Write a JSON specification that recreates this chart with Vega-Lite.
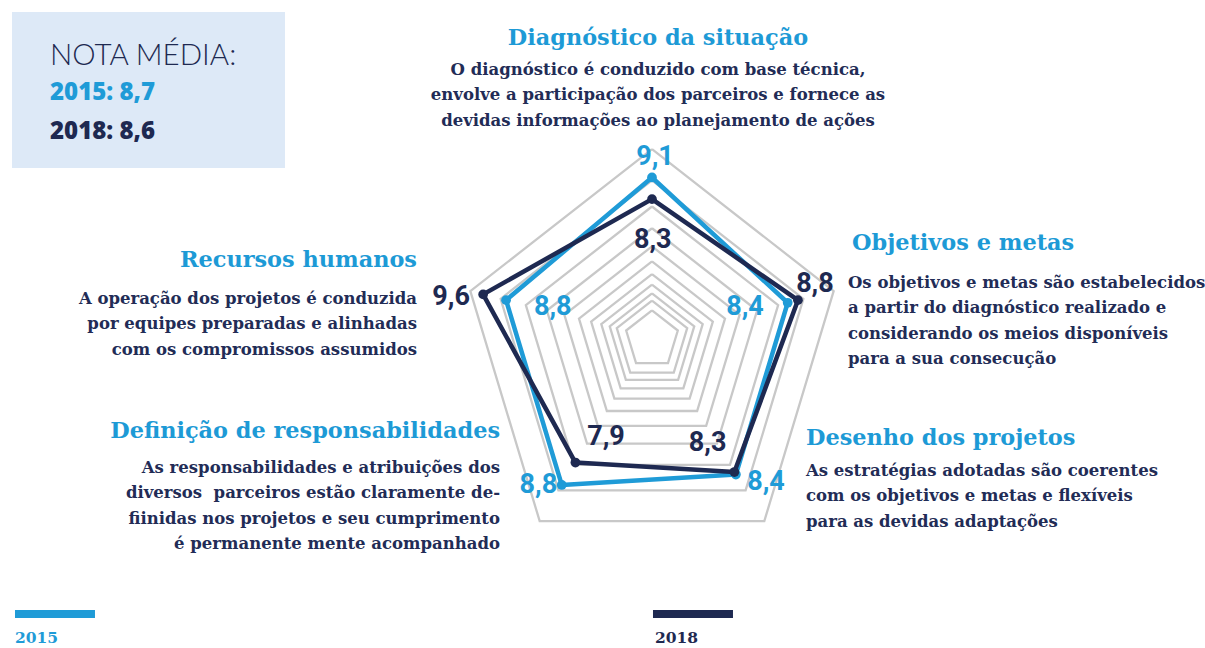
{
  "$schema": "https://vega.github.io/schema/vega-lite/v6.json",
  "width": 1205,
  "height": 648,
  "padding": 0,
  "autosize": {"type": "none"},
  "background": "white",
  "config": {"view": {"stroke": null}},
  "datasets": {
    "scores": [
      {"year": "2015", "i": 0, "eixo": "Diagnóstico da situação", "value": 9.1},
      {"year": "2015", "i": 1, "eixo": "Objetivos e metas", "value": 8.4},
      {"year": "2015", "i": 2, "eixo": "Desenho dos projetos", "value": 8.4},
      {"year": "2015", "i": 3, "eixo": "Definição de responsabilidades", "value": 8.8},
      {"year": "2015", "i": 4, "eixo": "Recursos humanos", "value": 8.8},
      {"year": "2018", "i": 0, "eixo": "Diagnóstico da situação", "value": 8.3},
      {"year": "2018", "i": 1, "eixo": "Objetivos e metas", "value": 8.8},
      {"year": "2018", "i": 2, "eixo": "Desenho dos projetos", "value": 8.3},
      {"year": "2018", "i": 3, "eixo": "Definição de responsabilidades", "value": 7.9},
      {"year": "2018", "i": 4, "eixo": "Recursos humanos", "value": 9.6}
    ],
    "rings": [
      {"ring": -0.7, "k": [0, 1, 2, 3, 4, 5]},
      {"ring": 1, "k": [0, 1, 2, 3, 4, 5]},
      {"ring": 2, "k": [0, 1, 2, 3, 4, 5]},
      {"ring": 3, "k": [0, 1, 2, 3, 4, 5]},
      {"ring": 4, "k": [0, 1, 2, 3, 4, 5]},
      {"ring": 5, "k": [0, 1, 2, 3, 4, 5]},
      {"ring": 6, "k": [0, 1, 2, 3, 4, 5]},
      {"ring": 7, "k": [0, 1, 2, 3, 4, 5]},
      {"ring": 8, "k": [0, 1, 2, 3, 4, 5]},
      {"ring": 9, "k": [0, 1, 2, 3, 4, 5]},
      {"ring": 10, "k": [0, 1, 2, 3, 4, 5]}
    ],
    "axes": [
      {"i": 0, "name": "Diagnóstico da situação", "desc": ["O diagnóstico é conduzido com base técnica,", "envolve a participação dos parceiros e fornece as", "devidas informações ao planejamento de ações"]},
      {"i": 1, "name": "Objetivos e metas", "desc": ["Os objetivos e metas são estabelecidos", "a partir do diagnóstico realizado e", "considerando os meios disponíveis", "para a sua consecução"]},
      {"i": 2, "name": "Desenho dos projetos", "desc": ["As estratégias adotadas são coerentes", "com os objetivos e metas e flexíveis", "para as devidas adaptações"]},
      {"i": 3, "name": "Definição de responsabilidades", "desc": ["As responsabilidades e atribuições dos", "diversos\u00a0 parceiros estão claramente de-", "fiinidas nos projetos e seu cumprimento", "é permanente mente acompanhado"]},
      {"i": 4, "name": "Recursos humanos", "desc": ["A operação dos projetos é conduzida", "por equipes preparadas e alinhadas", "com os compromissos assumidos"]}
    ],
    "years": [
      {"year": "2015", "media": 8.7},
      {"year": "2018", "media": 8.6}
    ]
  },
  "encoding": {
    "x": {"field": "x", "type": "quantitative", "scale": {"domain": [-3.4136, 2.8953], "nice": false, "zero": false}, "axis": null},
    "y": {"field": "y", "type": "quantitative", "scale": {"domain": [-1.6283, 1.7644], "nice": false, "zero": false}, "axis": null},
    "color": {"field": "year", "type": "nominal", "scale": {"domain": ["2015", "2018"], "range": ["#1f9bd7", "#1e2951"]}, "legend": null}
  },
  "layer": [
    {
      "data": {"values": [{"part": "box"}]},
      "transform": [
        {"calculate": "-3.3508", "as": "x"},
        {"calculate": "-1.9215", "as": "x2"},
        {"calculate": "1.7016", "as": "y"},
        {"calculate": "0.8848", "as": "y2"}
      ],
      "mark": {"type": "rect", "fill": "#dde9f7"},
      "encoding": {"x2": {"field": "x2"}, "y2": {"field": "y2"}, "color": {"value": "#dde9f7"}}
    },
    {
      "data": {"name": "rings"},
      "transform": [
        {"flatten": ["k"]},
        {"calculate": "pow(1.2, datum.ring - 10)", "as": "r"},
        {"calculate": "datum.r * [0, 0.951, 0.588, -0.588, -0.951, 0][datum.k]", "as": "x"},
        {"calculate": "datum.r * [0.984, 0.240, -0.964, -0.964, 0.240, 0.984][datum.k]", "as": "y"}
      ],
      "mark": {"type": "line", "stroke": "#c8c8c8", "strokeWidth": 2.3, "strokeJoin": "miter"},
      "encoding": {"detail": {"field": "ring", "type": "nominal"}, "order": {"field": "k", "type": "quantitative"}, "color": {"value": "#c8c8c8"}}
    },
    {
      "data": {"name": "scores"},
      "transform": [
        {"calculate": "pow(1.2, datum.value - 10)", "as": "r"},
        {"calculate": "datum.r * [0, 0.951, 0.588, -0.588, -0.951][datum.i]", "as": "x"},
        {"calculate": "datum.r * [0.984, 0.240, -0.964, -0.964, 0.240][datum.i]", "as": "y"}
      ],
      "mark": {"type": "line", "interpolate": "linear-closed", "strokeWidth": 4.5, "strokeJoin": "round"},
      "encoding": {"order": {"field": "i", "type": "quantitative"}}
    },
    {
      "data": {"name": "scores"},
      "transform": [
        {"calculate": "pow(1.2, datum.value - 10)", "as": "r"},
        {"calculate": "datum.r * [0, 0.951, 0.588, -0.588, -0.951][datum.i]", "as": "x"},
        {"calculate": "datum.r * [0.984, 0.240, -0.964, -0.964, 0.240][datum.i]", "as": "y"}
      ],
      "mark": {"type": "point", "filled": true, "opacity": 1, "size": 95}
    },
    {
      "data": {"name": "scores"},
      "transform": [
        {"calculate": "(datum.year == '2015' ? 0 : 5) + datum.i", "as": "key"},
        {"calculate": "pow(1.2, datum.value - 10)", "as": "r"},
        {"calculate": "datum.r * [0, 0.951, 0.588, -0.588, -0.951][datum.i] + [3, -42.7, 30.1, -23.4, 46.7, 0.7, 17, -26.7, 30.6, -32][datum.key] / 191", "as": "x"},
        {"calculate": "datum.r * [0.984, 0.240, -0.964, -0.964, 0.240][datum.i] - [-20.2, 3.9, 7.1, 0, 6.7, 40.9, -16, -28.7, -25.9, 2.6][datum.key] / 191", "as": "y"},
        {"calculate": "replace(format(datum.value, '.1f'), '.', ',')", "as": "label"}
      ],
      "mark": {"type": "text", "font": "Roboto", "fontWeight": "bold", "fontSize": 27, "align": "center", "baseline": "middle"},
      "encoding": {"text": {"field": "label", "type": "nominal"}}
    },
    {
      "data": {"name": "axes"},
      "transform": [
        {"filter": "datum.i == 0"},
        {"calculate": "[0.0314, 1.0471, 0.8063, -0.7958, -1.2304][datum.i]", "as": "x"},
        {"calculate": "[1.5288, 0.4555, -0.5654, -0.5288, 0.3665][datum.i]", "as": "y"}
      ],
      "mark": {"type": "text", "font": "DejaVu Serif", "fontWeight": "bold", "fontSize": 22.4, "align": "center", "baseline": "alphabetic"},
      "encoding": {"text": {"field": "name", "type": "nominal"}, "color": {"value": "#1d9ad6"}}
    },
    {
      "data": {"name": "axes"},
      "transform": [
        {"filter": "datum.i == 1 || datum.i == 2"},
        {"calculate": "[0.0314, 1.0471, 0.8063, -0.7958, -1.2304][datum.i]", "as": "x"},
        {"calculate": "[1.5288, 0.4555, -0.5654, -0.5288, 0.3665][datum.i]", "as": "y"}
      ],
      "mark": {"type": "text", "font": "DejaVu Serif", "fontWeight": "bold", "fontSize": 22.4, "align": "left", "baseline": "alphabetic"},
      "encoding": {"text": {"field": "name", "type": "nominal"}, "color": {"value": "#1d9ad6"}}
    },
    {
      "data": {"name": "axes"},
      "transform": [
        {"filter": "datum.i == 3 || datum.i == 4"},
        {"calculate": "[0.0314, 1.0471, 0.8063, -0.7958, -1.2304][datum.i]", "as": "x"},
        {"calculate": "[1.5288, 0.4555, -0.5654, -0.5288, 0.3665][datum.i]", "as": "y"}
      ],
      "mark": {"type": "text", "font": "DejaVu Serif", "fontWeight": "bold", "fontSize": 22.4, "align": "right", "baseline": "alphabetic"},
      "encoding": {"text": {"field": "name", "type": "nominal"}, "color": {"value": "#1d9ad6"}}
    },
    {
      "data": {"name": "axes"},
      "transform": [
        {"filter": "datum.i == 0"},
        {"calculate": "[0.0314, 1.0262, 0.8063, -0.7958, -1.2304][datum.i]", "as": "x"},
        {"calculate": "[1.3717, 0.2565, -0.7277, -0.7120, 0.1728][datum.i]", "as": "y"}
      ],
      "mark": {"type": "text", "font": "DejaVu Serif", "fontWeight": "bold", "fontSize": 16.5, "lineHeight": 25.3, "align": "center", "baseline": "alphabetic"},
      "encoding": {"text": {"field": "desc", "type": "nominal"}, "color": {"value": "#222c56"}}
    },
    {
      "data": {"name": "axes"},
      "transform": [
        {"filter": "datum.i == 1 || datum.i == 2"},
        {"calculate": "[0.0314, 1.0262, 0.8063, -0.7958, -1.2304][datum.i]", "as": "x"},
        {"calculate": "[1.3717, 0.2565, -0.7277, -0.7120, 0.1728][datum.i]", "as": "y"}
      ],
      "mark": {"type": "text", "font": "DejaVu Serif", "fontWeight": "bold", "fontSize": 16.5, "lineHeight": 25.3, "align": "left", "baseline": "alphabetic"},
      "encoding": {"text": {"field": "desc", "type": "nominal"}, "color": {"value": "#222c56"}}
    },
    {
      "data": {"name": "axes"},
      "transform": [
        {"filter": "datum.i == 3 || datum.i == 4"},
        {"calculate": "[0.0314, 1.0262, 0.8063, -0.7958, -1.2304][datum.i]", "as": "x"},
        {"calculate": "[1.3717, 0.2565, -0.7277, -0.7120, 0.1728][datum.i]", "as": "y"}
      ],
      "mark": {"type": "text", "font": "DejaVu Serif", "fontWeight": "bold", "fontSize": 16.5, "lineHeight": 25.3, "align": "right", "baseline": "alphabetic"},
      "encoding": {"text": {"field": "desc", "type": "nominal"}, "color": {"value": "#222c56"}}
    },
    {
      "data": {"values": [{"t": "NOTA MÉDIA:"}]},
      "transform": [
        {"calculate": "-3.1518", "as": "x"},
        {"calculate": "1.4241", "as": "y"}
      ],
      "mark": {"type": "text", "font": "Lato", "fontWeight": 300, "fontSize": 29.5, "align": "left", "baseline": "alphabetic"},
      "encoding": {"text": {"field": "t", "type": "nominal"}, "color": {"value": "#1e2951"}}
    },
    {
      "data": {"name": "years"},
      "transform": [
        {"calculate": "-3.1518", "as": "x"},
        {"calculate": "datum.year == '2015' ? 1.2408 : 1.0366", "as": "y"},
        {"calculate": "datum.year + ': ' + replace(format(datum.media, '.1f'), '.', ',')", "as": "label"}
      ],
      "mark": {"type": "text", "font": "Open Sans", "fontWeight": 800, "fontSize": 24, "align": "left", "baseline": "alphabetic"},
      "encoding": {"text": {"field": "label", "type": "nominal"}}
    },
    {
      "data": {"name": "years"},
      "transform": [
        {"calculate": "datum.year == '2015' ? -3.3351 : 0.0052", "as": "x"},
        {"calculate": "datum.x + 0.4188", "as": "x2"},
        {"calculate": "-1.4293", "as": "y"},
        {"calculate": "-1.4712", "as": "y2"}
      ],
      "mark": {"type": "rect"},
      "encoding": {"x2": {"field": "x2"}, "y2": {"field": "y2"}}
    },
    {
      "data": {"name": "years"},
      "transform": [
        {"calculate": "datum.year == '2015' ? -3.3351 : 0.0157", "as": "x"},
        {"calculate": "-1.6021", "as": "y"}
      ],
      "mark": {"type": "text", "font": "DejaVu Serif", "fontWeight": "bold", "fontSize": 15.5, "align": "left", "baseline": "alphabetic"},
      "encoding": {"text": {"field": "year", "type": "nominal"}}
    }
  ]
}
